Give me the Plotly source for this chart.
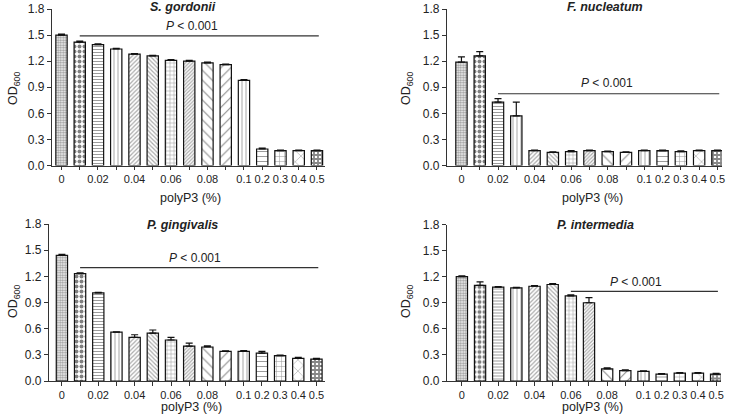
import plotly.graph_objects as go

# ---------------- data ----------------
categories = ["0", "0.01", "0.02", "0.03", "0.04", "0.05", "0.06", "0.07",
              "0.08", "0.09", "0.1", "0.2", "0.3", "0.4", "0.5"]
tick_labels = ["0", "", "0.02", "", "0.04", "", "0.06", "", "0.08", "",
               "0.1", "0.2", "0.3", "0.4", "0.5"]

species = ["S. gordonii", "F. nucleatum", "P. gingivalis", "P. intermedia"]

gordonii_mean = [1.50, 1.42, 1.39, 1.34, 1.28, 1.26, 1.21, 1.20, 1.18, 1.16, 0.98, 0.19, 0.17, 0.17, 0.17]
gordonii_err = [0.012, 0.010, 0.008, 0.006, 0.008, 0.006, 0.008, 0.010, 0.010, 0.006, 0.008, 0.010, 0.008, 0.006, 0.008]

nucleatum_mean = [1.19, 1.26, 0.73, 0.57, 0.17, 0.15, 0.16, 0.17, 0.16, 0.15, 0.17, 0.17, 0.16, 0.17, 0.17]
nucleatum_err = [0.06, 0.05, 0.04, 0.16, 0.008, 0.006, 0.010, 0.008, 0.006, 0.008, 0.006, 0.008, 0.008, 0.006, 0.006]

gingivalis_mean = [1.44, 1.23, 1.01, 0.56, 0.50, 0.55, 0.47, 0.40, 0.39, 0.34, 0.34, 0.32, 0.29, 0.26, 0.25]
gingivalis_err = [0.012, 0.010, 0.006, 0.004, 0.030, 0.035, 0.030, 0.035, 0.012, 0.006, 0.008, 0.020, 0.008, 0.010, 0.010]

intermedia_mean = [1.20, 1.10, 1.08, 1.07, 1.09, 1.11, 0.98, 0.90, 0.14, 0.12, 0.11, 0.08, 0.09, 0.09, 0.08]
intermedia_err = [0.008, 0.04, 0.006, 0.008, 0.008, 0.010, 0.010, 0.06, 0.010, 0.008, 0.006, 0.006, 0.008, 0.006, 0.008]

means = [gordonii_mean, nucleatum_mean, gingivalis_mean, intermedia_mean]
errs = [gordonii_err, nucleatum_err, gingivalis_err, intermedia_err]

# significance bar: start category (end at "0.5")
sig_start = ["0.01", "0.02", "0.01", "0.06"]
sig_level = [1.49, 0.825, 1.30, 1.03]
sig_label = "<i>P</i> < 0.001"

# ---------------- styling ----------------
pat_shape = [".", ".", "-", "|", "/", "\\", "+", "/", "\\", "/", "|", "-", "+", "x", "+"]
pat_size = [2.5, 5, 3, 4, 3, 3, 4, 2.5, 7, 7, 4, 5, 5, 8, 4]
pat_solid = [0.6, 0.5, 0.3, 0.2, 0.4, 0.4, 0.22, 0.45, 0.15, 0.15, 0.2, 0.18, 0.18, 0.12, 0.7]
pat_fg = ["#333", "#000", "#222", "#222", "#555", "#555", "#222", "#555",
          "#111", "#111", "#222", "#222", "#222", "#222", "#111"]

W, H = 730, 418
# panel layout in pixels: (x_axis_left, x_axis_right, y_top(1.8), y_bottom(0), range_lo, range_hi)
panels = [
    (52, 325, 9, 165.5, -0.52, 14.44),
    (447, 722, 9, 165.5, -0.79, 14.25),
    (49, 325, 224, 381, -0.71, 14.47),
    (447, 721, 224.5, 381, -0.82, 14.27),
]
title_px = [(183, 7), (605, 7), (182, 225), (595, 225)]
ptext_pos = [(7.15, 1.60), (7.97, 0.95), (7.3, 1.41), (9.6, 1.14)]
ytitle_px = [(14, 89), (407, 89), (14, 302), (407, 302)]
xtitle_px = [(191, 198), (592, 198), (192, 407), (592, 407)]

FONT = "Liberation Sans, Arial, sans-serif"
TXT = "#222"

fig = go.Figure()
annotations = []
shapes = []

for i in range(4):
    xl, xr, yt, yb, r0, r1 = panels[i]
    ax = "" if i == 0 else str(i + 1)
    fig.add_trace(go.Bar(
        x=categories, y=means[i],
        xaxis="x" + ax, yaxis="y" + ax,
        width=0.62,
        marker=dict(
            color="white",
            line=dict(color="#111", width=1.2),
            pattern=dict(shape=pat_shape, size=pat_size, solidity=pat_solid,
                         fgcolor=pat_fg, fillmode="overlay"),
        ),
        error_y=dict(type="data", symmetric=False, array=errs[i],
                     arrayminus=[0] * len(errs[i]),
                     color="#111", thickness=1.2, width=3.5),
        showlegend=False,
        hoverinfo="skip",
    ))
    fig.update_layout(**{
        "xaxis" + ax: dict(
            domain=[xl / W, xr / W], anchor="y" + ax,
            type="category", range=[r0, r1], automargin=False,
            tickmode="array", tickvals=categories, ticktext=tick_labels,
            tickangle=0,
            ticks="outside", ticklen=3.5, tickwidth=1.2, tickcolor="#333",
            showline=True, linecolor="#333", linewidth=1.3,
            showgrid=False, zeroline=False,
            tickfont=dict(family=FONT, size=11, color=TXT),
        ),
        "yaxis" + ax: dict(
            domain=[1 - yb / H, 1 - yt / H], anchor="x" + ax,
            range=[0, 1.8], automargin=False,
            tickvals=[0, 0.3, 0.6, 0.9, 1.2, 1.5, 1.8],
            ticktext=["0.0", "0.3", "0.6", "0.9", "1.2", "1.5", "1.8"],
            ticks="outside", ticklen=4, tickwidth=1.2, tickcolor="#333",
            showline=True, linecolor="#333", linewidth=1.3,
            showgrid=False, zeroline=False,
            tickfont=dict(family=FONT, size=12, color=TXT),
        ),
    })
    xr_ = "x" + ax
    yr_ = "y" + ax
    # title
    annotations.append(dict(
        x=title_px[i][0] / W, y=1 - title_px[i][1] / H,
        xref="paper", yref="paper",
        text="<b><i>" + species[i] + "</i></b>", showarrow=False,
        font=dict(family=FONT, size=12.5, color=TXT),
        xanchor="center", yanchor="middle"))
    # significance line and text
    shapes.append(dict(
        type="line", xref=xr_, yref=yr_,
        x0=categories.index(sig_start[i]), x1=14.1,
        y0=sig_level[i], y1=sig_level[i],
        line=dict(color="#333", width=1.2)))
    annotations.append(dict(
        x=ptext_pos[i][0], y=ptext_pos[i][1], xref=xr_, yref=yr_,
        text=sig_label, showarrow=False,
        font=dict(family=FONT, size=12, color=TXT),
        xanchor="center", yanchor="middle"))
    # axis titles
    annotations.append(dict(
        x=ytitle_px[i][0] / W, y=1 - ytitle_px[i][1] / H,
        xref="paper", yref="paper", text="OD<sub>600</sub>",
        textangle=-90, showarrow=False,
        font=dict(family=FONT, size=12.5, color=TXT),
        xanchor="center", yanchor="middle"))
    annotations.append(dict(
        x=xtitle_px[i][0] / W, y=1 - xtitle_px[i][1] / H,
        xref="paper", yref="paper", text="polyP3 (%)",
        showarrow=False,
        font=dict(family=FONT, size=12.5, color=TXT),
        xanchor="center", yanchor="middle"))

fig.update_layout(
    width=W, height=H,
    margin=dict(l=0, r=0, t=0, b=0, autoexpand=False),
    paper_bgcolor="white", plot_bgcolor="white",
    annotations=annotations, shapes=shapes,
    bargap=0.38,
    font=dict(family=FONT, color=TXT),
)

fig.write_html(
    "out.html",
    config={"displayModeBar": False},
    post_script="document.body.style.margin='0';document.body.style.padding='0';",
)
